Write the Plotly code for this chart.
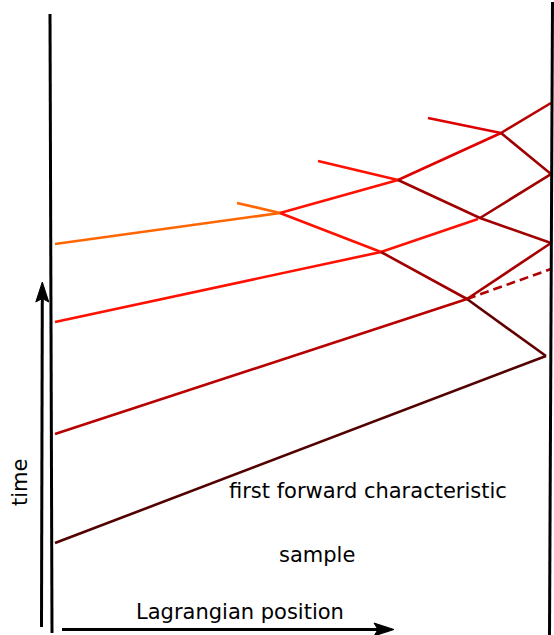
import plotly.graph_objects as go

# Canvas coordinates (pixel-like units, y grows downward)
W, H = 554, 635

# Characteristic segments: x positions, y positions (time axis inverted), colours
seg_x = [
    [55, 280],            # orange forward characteristic
    [237, 280],           # orange backward stub
    [280, 398],           # red forward after first crossing
    [318, 398],           # red backward stub
    [280, 381],           # red backward
    [55, 381, 478],       # second forward characteristic
    [398, 501],           # upper forward
    [501, 551],           # upper forward to wall
    [428, 501],           # top backward stub
    [398, 480, 551],      # backward through crossing
    [501, 551, 480],      # reflection off right wall
    [381, 467],           # backward dark
    [55, 467],            # third forward characteristic
    [467, 551],           # third forward to wall
    [467, 546],           # darkest backward
    [55, 546],            # first forward characteristic
]
seg_y = [
    [244, 213],
    [203, 213],
    [213, 180],
    [161, 180],
    [213, 252],
    [322, 252, 219],
    [180, 133],
    [133, 103],
    [118, 133],
    [180, 218, 243],
    [133, 174, 218],
    [252, 299],
    [434, 299],
    [299, 243],
    [299, 356],
    [543, 356],
]
seg_color = [
    "#ff6600", "#ff6600", "#ff1000", "#ff1000", "#ff1000", "#ff1000",
    "#e00000", "#b80000", "#dd0000", "#a00000", "#a00000", "#a00000",
    "#b80000", "#a80000", "#620000", "#520000",
]

dash_x = [467, 551]
dash_y = [299, 269]
dash_color = "#b00000"

wall_left_x = [50, 52]
wall_left_y = [14, 633]
wall_right_x = [552.5, 549.5]
wall_right_y = [2, 635]

labels = ["first forward characteristic", "sample", "Lagrangian position", "time"]
label_x = [368, 317, 240, 20]
label_y = [491, 555, 612, 483]
label_angle = [0, 0, 0, -90]

fig = go.Figure()

for xs, ys, c in zip(seg_x, seg_y, seg_color):
    fig.add_trace(go.Scatter(x=xs, y=ys, mode="lines",
                             line=dict(color=c, width=2.6),
                             hoverinfo="skip", showlegend=False))

fig.add_trace(go.Scatter(x=dash_x, y=dash_y, mode="lines",
                         line=dict(color=dash_color, width=2.6, dash="9px,5px"),
                         hoverinfo="skip", showlegend=False))

for xs, ys in [(wall_left_x, wall_left_y), (wall_right_x, wall_right_y)]:
    fig.add_trace(go.Scatter(x=xs, y=ys, mode="lines",
                             line=dict(color="black", width=3),
                             hoverinfo="skip", showlegend=False))

shapes = [
    # time arrow shaft + head
    dict(type="line", x0=41.5, y0=627, x1=42.3, y1=296,
         line=dict(color="black", width=3)),
    dict(type="path", path="M 42.3 282 L 35.8 302 L 42.3 298.5 L 48.8 302 Z",
         fillcolor="black", line=dict(color="black", width=1)),
    # position arrow shaft + head
    dict(type="line", x0=62, y0=629.5, x1=380, y1=629.5,
         line=dict(color="black", width=3)),
    dict(type="path", path="M 394 629.5 L 374 623 L 378 629.5 L 374 636 Z",
         fillcolor="black", line=dict(color="black", width=1)),
]
for s in shapes:
    s.update(xref="x", yref="y", layer="above")
fig.update_layout(shapes=shapes)

for t, x, y, a in zip(labels, label_x, label_y, label_angle):
    fig.add_annotation(x=x, y=y, text=t, showarrow=False, textangle=a,
                       xref="x", yref="y",
                       font=dict(family="DejaVu Sans", size=21, color="black"))

fig.update_layout(
    width=W, height=H,
    margin=dict(l=0, r=0, t=0, b=0),
    paper_bgcolor="white", plot_bgcolor="white",
    xaxis=dict(range=[0, W], visible=False, fixedrange=True),
    yaxis=dict(range=[H, 0], visible=False, fixedrange=True),
)

fig.write_html("out.html")
